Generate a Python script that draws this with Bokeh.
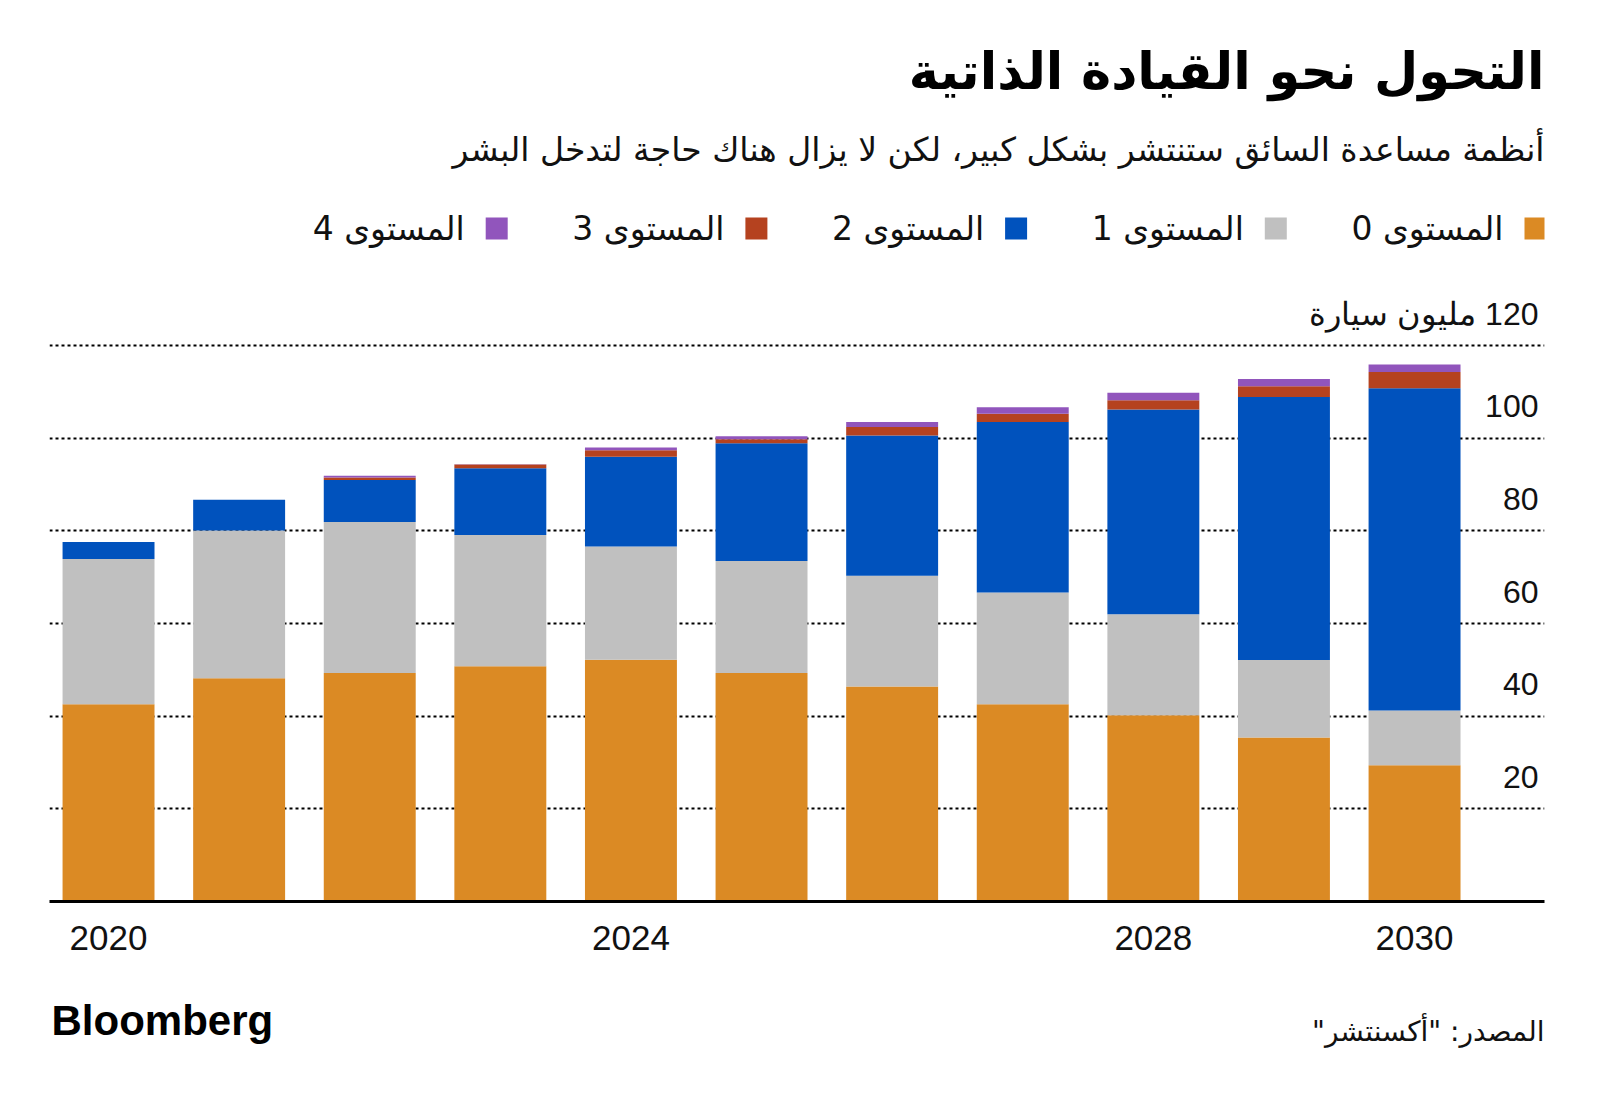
from bokeh.plotting import figure
from bokeh.models import ColumnDataSource, Range1d, FixedTicker
from bokeh.layouts import column
from bokeh.core.properties import value
from bokeh.embed import file_html
from bokeh.resources import INLINE

# ---------------- data ----------------
years = [2020, 2021, 2022, 2023, 2024, 2025, 2026, 2027, 2028, 2029, 2030]
level0 = [42.6, 48.2, 49.3, 50.8, 52.2, 49.3, 46.4, 42.6, 40.2, 35.4, 29.4]
level1 = [31.3, 31.9, 32.6, 28.3, 24.4, 24.2, 23.9, 24.1, 21.8, 16.7, 11.8]
level2 = [3.7, 6.6, 9.1, 14.4, 19.4, 25.4, 30.3, 36.8, 44.2, 56.8, 69.6]
level3 = [0.0, 0.0, 0.5, 0.8, 1.4, 0.9, 1.8, 1.8, 2.0, 2.3, 3.5]
level4 = [0.0, 0.0, 0.4, 0.1, 0.6, 0.6, 1.1, 1.4, 1.6, 1.6, 1.6]

series_names = ["المستوى 0", "المستوى 1", "المستوى 2", "المستوى 3", "المستوى 4"]
colors = ["#DB8A24", "#C0C0C0", "#0052BD", "#B5421F", "#9155BC"]

y_ticks = [20, 40, 60, 80, 100, 120]
y_tick_labels = ["20", "40", "60", "80", "100", "\u200f120 مليون سيارة"]
x_ticks = [2020, 2024, 2028, 2030]

title_text = "التحول نحو القيادة الذاتية"
subtitle_text = "أنظمة مساعدة السائق ستنتشر بشكل كبير، لكن لا يزال هناك حاجة لتدخل البشر"
source_text = "\u200fالمصدر: \"أكسنتشر\"\u200f"
brand_text = "Bloomberg"

W = 1584
BL, BR = 49, 40          # frame borders shared by all stacked figures
FX0, FX1 = BL, W - BR    # frame extent in canvas pixels
AR_FONT = "DejaVu Sans"
NUM_FONT = "Liberation Sans"


def panel(height):
    f = figure(width=W, height=height, x_range=Range1d(FX0, FX1), y_range=Range1d(height, 0),
               x_axis_location=None, y_axis_location=None, toolbar_location=None,
               output_backend="svg", min_border_left=BL, min_border_right=BR,
               min_border_top=0, min_border_bottom=0, outline_line_color=None)
    f.grid.visible = False
    return f


# ---------------- header ----------------
HH = 285
head = panel(HH)
head.text(x=[FX1], y=[71], text=[title_text], text_align="right", text_baseline="middle",
          text_font=value(AR_FONT), text_font_style="bold", text_font_size="51px",
          text_color="#000000")
head.text(x=[FX1], y=[149], text=[subtitle_text], text_align="right", text_baseline="middle",
          text_font=value(AR_FONT), text_font_size="33px", text_color="#111111")

pitch = 259.7
sq_x = [1535 - i * pitch for i in range(5)]
tx_x = [1503 - i * pitch for i in range(5)]
leg = ColumnDataSource(dict(sx=sq_x, tx=tx_x, y=[228] * 5, c=colors, t=series_names))
head.scatter(x="sx", y="y", marker="square", size=22, fill_color="c", line_color=None, source=leg)
head.text(x="tx", y="y", text="t", text_align="right", text_baseline="middle",
          text_font=value(AR_FONT), text_font_size="33px", text_color="#111111", source=leg)

# ---------------- chart ----------------
CH = 686
p = figure(width=W, height=CH, x_range=Range1d(2019.548, 2030.995), y_range=Range1d(0, 132.96),
           y_axis_location=None, toolbar_location=None, output_backend="svg",
           min_border_left=BL, min_border_right=BR, min_border_top=0, min_border_bottom=70,
           outline_line_color=None)

src = ColumnDataSource(dict(year=years, l0=level0, l1=level1, l2=level2, l3=level3, l4=level4))
p.vbar_stack(["l0", "l1", "l2", "l3", "l4"], x="year", width=0.704, color=colors,
             line_color=None, source=src)

p.xgrid.visible = False
p.ygrid.ticker = FixedTicker(ticks=y_ticks)
p.ygrid.grid_line_color = "#000000"
p.ygrid.grid_line_width = 2
p.ygrid.grid_line_dash = "3 3"

ax = p.xaxis[0]
ax.ticker = FixedTicker(ticks=x_ticks)
ax.axis_line_color = "#000000"
ax.axis_line_width = 3
ax.major_tick_line_color = None
ax.minor_tick_line_color = None
ax.major_label_standoff = 18
ax.major_label_text_font = NUM_FONT
ax.major_label_text_font_size = "35px"
ax.major_label_text_color = "#111111"

ysrc = ColumnDataSource(dict(y=y_ticks, t=y_tick_labels, x=[2030.995] * len(y_ticks)))
p.text(x="x", y="y", text="t", x_offset=-6, y_offset=-32, text_align="right",
       text_baseline="middle", text_font=value(NUM_FONT), text_font_size="32px",
       text_color="#111111", source=ysrc)

# ---------------- footer ----------------
FH = 1082 - HH - CH
foot = panel(FH)
foot.text(x=[51], y=[49], text=[brand_text], text_align="left", text_baseline="middle",
          text_font=value(NUM_FONT), text_font_style="bold", text_font_size="42px",
          text_color="#000000")
foot.text(x=[FX1], y=[60], text=[source_text], text_align="right", text_baseline="middle",
          text_font=value(AR_FONT), text_font_size="28px", text_color="#111111")

layout = column(head, p, foot, spacing=0)
open("out.html", "w").write(file_html(layout, INLINE))
